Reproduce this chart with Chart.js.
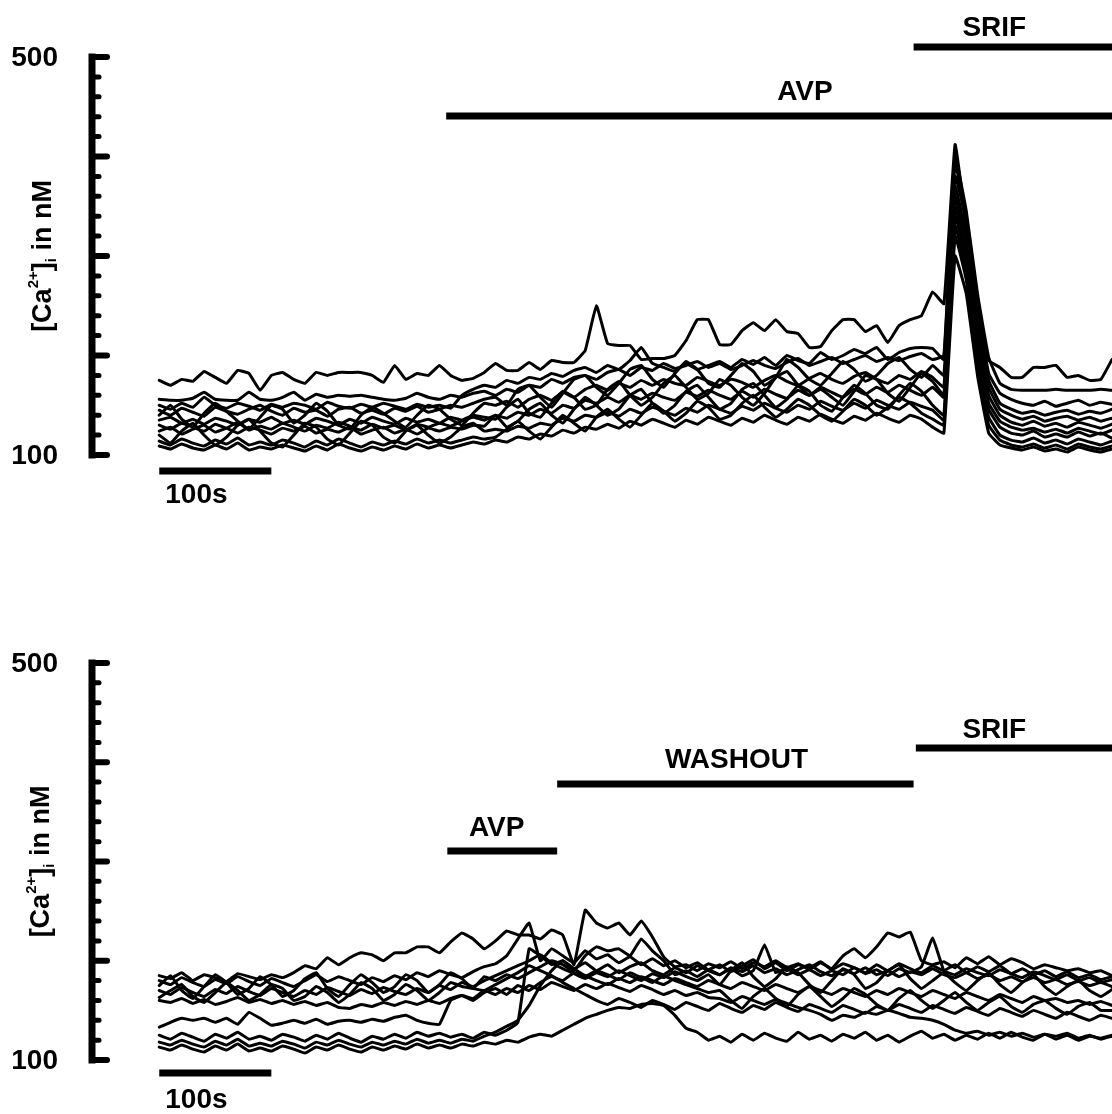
<!DOCTYPE html>
<html>
<head>
<meta charset="utf-8">
<title>[Ca2+]i traces</title>
<script src="https://cdn.jsdelivr.net/npm/chart.js@4.4.1/dist/chart.umd.min.js"></script>
<style>
  html, body { margin: 0; padding: 0; background: #fff; }
  #wrap { position: relative; width: 1112px; height: 1114px; }
  canvas { position: absolute; left: 0; }
</style>
</head>
<body>
<div id="wrap">
  <canvas id="topChart" width="1112" height="557" style="top:0"></canvas>
  <canvas id="bottomChart" width="1112" height="557" style="top:557px"></canvas>
</div>
<script>
// time axis, seconds (one sample every 10 s)
const time = [0,10,20,30,40,50,60,70,80,90,100,110,120,130,140,150,160,170,180,190,
  200,210,220,230,240,250,260,270,280,290,300,310,320,330,340,350,360,370,380,390,
  400,410,420,430,440,450,460,470,480,490,500,510,520,530,540,550,560,570,580,590,
  600,610,620,630,640,650,660,670,680,690,700,710,720,730,740,750,760,770,780,790,
  800,810,820,830,840,850];

const majorTicks = [100, 200, 300, 400, 500];
const tickLabels = [100, 500];
const scaleBar = [0, 100];

// drug applications, seconds
const topDrugs = ['SRIF', 'AVP'];
const topDrugStart = [673, 256];
const topDrugEnd = [850, 850];
const bottomDrugs = ['AVP', 'WASHOUT', 'SRIF'];
const bottomDrugStart = [257, 355, 675];
const bottomDrugEnd = [355, 673, 850];

// [Ca2+]i in nM, continuous AVP then SRIF
const topCell1 = [175,170,176,174,184,178,172,185,182,165,
  180,183,176,172,183,180,183,183,183,180,
  173,190,176,182,180,190,180,175,177,183,
  192,185,185,193,186,195,193,193,205,250,
  212,210,210,196,197,197,200,215,236,236,
  211,211,225,233,225,236,224,222,208,209,
  225,236,236,224,230,213,230,236,240,264,
  252,412,330,245,195,188,178,178,188,188,
  190,178,180,175,176,196];
const topCell2 = [156,155,155,157,163,156,155,155,163,156,
  155,158,163,155,161,158,160,159,160,158,
  156,155,157,162,158,156,160,158,162,164,
  160,166,163,170,168,176,172,178,180,176,
  183,186,180,188,185,192,187,190,194,188,
  192,186,190,195,190,187,193,197,190,194,
  198,192,196,200,194,198,195,199,202,196,
  200,400,345,262,198,172,166,165,165,165,
  166,165,165,165,166,165];
const topCell3 = [150,146,152,148,158,150,147,152,149,145,
  151,148,152,150,146,153,149,147,151,148,
  152,149,146,151,148,150,147,160,166,170,
  168,175,172,178,176,182,179,185,188,183,
  190,186,195,208,192,188,184,192,186,190,
  194,188,196,191,198,190,200,195,192,203,
  196,200,206,202,208,196,203,207,208,207,
  196,395,330,250,182,162,156,152,150,154,
  149,152,155,150,153,151];
const topCell4 = [145,140,147,143,139,148,144,141,146,150,
  144,140,147,143,145,139,146,148,142,145,
  141,147,144,149,143,146,150,148,152,156,
  158,150,166,170,158,148,162,176,180,168,
  160,172,186,190,176,168,182,194,186,172,
  168,180,192,184,170,178,196,188,176,170,
  182,194,186,174,180,192,198,186,178,190,
  180,380,335,240,175,152,146,142,144,140,
  143,145,141,144,142,146];
const topCell5 = [140,150,136,128,142,152,144,134,126,138,
  150,146,132,140,152,144,130,126,140,148,
  142,134,128,140,150,146,136,130,142,152,
  150,154,148,156,160,155,163,158,166,170,
  165,172,168,175,170,176,172,170,178,174,
  170,176,173,168,175,180,174,170,177,182,
  176,172,179,183,176,172,180,176,184,178,
  168,370,320,232,168,146,140,136,139,134,
  137,139,135,138,134,137];
const topCell6 = [135,138,132,136,131,137,134,130,136,133,
  138,132,135,131,137,134,130,136,132,138,
  134,131,137,133,136,132,138,135,140,138,
  136,148,156,142,138,152,164,158,146,150,
  166,174,160,150,158,172,180,168,156,162,
  176,170,158,150,162,178,184,170,160,166,
  158,150,164,180,176,162,154,168,182,174,
  160,360,312,226,160,140,133,130,134,129,
  132,128,133,130,127,131];
const topCell7 = [130,126,132,128,124,131,127,133,125,129,
  126,132,128,124,130,127,133,129,125,131,
  127,130,125,131,128,132,129,134,138,135,
  140,137,143,140,146,142,150,147,155,152,
  158,153,160,156,162,158,155,163,159,165,
  160,156,164,158,166,161,157,165,160,168,
  163,158,166,161,168,163,170,165,160,168,
  158,350,300,215,152,134,128,125,127,123,
  126,122,127,124,121,125];
const topCell8 = [124,128,121,126,130,123,127,122,128,125,
  121,127,124,129,122,126,123,128,121,125,
  128,122,126,121,127,124,128,126,130,129,
  140,128,134,146,152,140,132,146,158,150,
  140,146,160,166,152,142,150,164,170,158,
  146,152,166,172,160,148,156,170,164,150,
  144,158,170,162,150,146,160,172,164,150,
  140,340,295,208,146,128,122,120,124,118,
  121,118,123,119,122,117];
const topCell9 = [120,112,124,132,120,110,118,130,136,124,
  112,108,120,132,128,116,110,122,134,130,
  118,112,124,130,120,112,118,128,132,124,
  126,124,129,127,132,130,137,134,140,138,
  143,139,146,142,148,144,140,147,143,150,
  146,142,149,145,152,147,143,150,146,154,
  149,145,152,147,155,150,146,153,149,145,
  135,330,285,200,138,120,115,113,117,112,
  115,111,116,113,110,114];
const topCell10 = [114,110,116,112,109,115,111,117,110,113,
  110,115,112,108,114,110,116,112,108,113,
  110,114,111,116,112,115,112,115,118,116,
  118,126,134,124,116,128,140,132,124,138,
  146,136,128,140,152,144,134,142,154,148,
  136,140,152,160,148,138,146,156,150,140,
  134,144,156,150,140,148,158,152,142,136,
  130,320,276,192,130,115,110,108,111,107,
  110,106,111,108,106,109];
const topCell11 = [109,106,111,107,105,110,106,112,105,108,
  106,110,107,104,109,105,111,107,104,108,
  105,109,106,111,107,110,107,110,113,111,
  115,113,118,116,121,119,125,122,128,126,
  131,127,134,130,136,132,128,135,131,138,
  134,130,137,133,140,135,131,138,134,141,
  136,132,139,135,142,137,133,140,136,128,
  122,300,262,180,122,110,107,105,108,104,
  106,103,108,105,103,106];

// [Ca2+]i in nM, AVP pulse, washout, then SRIF
const botCell1 = [185,182,188,180,186,183,179,187,184,181,
  186,183,188,195,192,203,196,203,208,206,
  200,208,208,214,214,208,219,228,222,212,
  220,230,226,226,222,231,226,196,251,238,
  233,238,226,240,224,204,194,196,190,197,
  193,199,192,198,194,200,193,197,191,198,
  192,205,212,203,214,228,224,229,200,196,
  199,193,203,197,204,196,202,198,192,196,
  193,190,192,188,190,185];
const botCell2 = [180,176,183,178,174,181,177,184,179,175,
  182,178,174,180,186,179,184,180,176,183,
  179,185,181,188,184,190,186,183,189,194,
  197,205,222,238,200,212,205,198,210,202,
  206,198,204,196,202,195,200,193,198,191,
  196,189,195,201,192,198,190,196,193,199,
  191,197,193,188,196,190,197,192,188,195,
  190,196,188,194,189,195,187,192,186,190,
  184,189,183,186,181,184];
const botCell3 = [175,185,170,162,174,186,178,166,172,184,
  176,164,170,182,188,172,164,176,186,178,
  168,174,186,180,168,176,188,182,172,184,
  180,186,182,188,194,200,196,190,205,214,
  210,212,205,222,210,200,186,190,184,191,
  186,192,185,190,216,188,192,186,191,185,
  190,186,193,187,191,185,192,188,194,223,
  190,186,192,188,185,191,187,183,189,185,
  181,186,180,183,178,181];
const botCell4 = [170,166,173,168,164,171,167,174,169,165,
  172,168,164,170,166,173,169,165,171,167,
  173,169,166,172,168,175,171,178,174,180,
  185,190,195,200,206,198,192,187,182,188,
  184,190,185,180,187,183,189,184,180,186,
  176,190,198,184,174,182,194,188,176,168,
  180,192,186,172,178,190,196,182,172,180,
  188,178,170,180,188,176,168,178,186,174,
  166,174,180,170,164,171];
const botCell5 = [163,170,176,164,158,168,178,170,160,166,
  176,172,160,164,174,168,158,166,178,172,
  160,166,176,170,160,168,178,174,172,170,
  176,182,188,195,190,185,178,172,166,160,
  156,162,158,153,160,156,151,158,154,150,
  157,152,148,155,151,158,153,149,156,152,
  148,155,151,147,154,150,156,152,148,155,
  151,147,153,149,145,152,148,144,150,146,
  142,148,144,140,145,142];
const botCell6 = [160,158,162,157,161,156,159,163,158,161,
  157,160,156,159,155,158,153,152,156,154,
  158,155,159,156,160,157,162,165,160,168,
  172,166,175,170,178,184,180,188,184,190,
  186,181,188,183,178,185,180,176,172,168,
  170,160,152,164,172,162,154,166,174,164,
  154,162,172,166,156,150,162,170,160,152,
  160,168,158,150,158,164,154,148,156,160,
  152,146,154,158,150,150];
const botCell7 = [133,138,142,140,142,138,142,136,148,142,
  135,137,140,137,141,136,139,140,138,141,
  139,143,145,140,137,136,160,165,162,170,
  166,172,168,175,171,178,174,170,176,172,
  177,173,169,175,171,166,170,165,168,163,
  162,158,164,160,156,161,157,153,150,146,
  140,145,143,148,146,150,147,143,142,140,
  136,130,127,129,125,128,124,127,123,126,
  124,127,122,125,121,124];
const botCell8 = [125,121,127,123,119,126,122,128,121,124,
  120,126,123,119,125,121,127,122,118,124,
  121,126,122,128,124,127,123,126,122,128,
  125,130,138,212,205,196,200,192,198,190,
  196,188,194,198,190,186,193,188,195,190,
  186,193,189,195,188,192,186,191,196,189,
  185,191,187,193,186,190,184,189,186,192,
  186,183,188,182,186,180,184,179,183,178,
  181,176,179,175,178,174];
const botCell9 = [118,115,120,116,113,119,115,121,114,117,
  114,119,116,112,118,115,120,116,113,118,
  115,119,116,121,117,120,117,121,119,124,
  128,134,140,155,175,190,200,192,185,180,
  176,182,178,184,180,176,182,178,174,180,
  176,172,178,174,170,176,172,168,174,170,
  166,172,168,164,170,166,172,168,164,170,
  166,162,168,164,160,166,162,158,164,160,
  162,158,160,156,159,155];
const botCell10 = [113,110,115,111,108,114,110,116,109,112,
  109,114,111,107,113,110,115,111,108,113,
  110,114,111,116,112,115,112,116,114,118,
  116,120,118,123,126,124,130,136,142,146,
  150,153,152,156,157,155,145,132,128,120,
  124,118,126,120,127,122,119,128,121,125,
  119,126,122,128,120,125,118,124,129,122,
  126,120,125,121,127,122,128,123,120,126,
  121,125,120,124,122,125];

const topSeries = [topCell1, topCell2, topCell3, topCell4, topCell5, topCell6,
  topCell7, topCell8, topCell9, topCell10, topCell11];
const bottomSeries = [botCell1, botCell2, botCell3, botCell4, botCell5,
  botCell6, botCell7, botCell8, botCell9, botCell10];

const xMin = -60, xMax = 850, yMin = 100, yMax = 500;
const fontFamily = '"Liberation Sans", Arial, Helvetica, sans-serif';
const labelFont = 'bold 28px ' + fontFamily;

// axis, scale bar, title and drug bars, all placed through the chart scales
const panelDecor = {
  id: 'panelDecor',
  afterDatasetsDraw(chart, args, opts) {
    const { ctx, scales: { x, y } } = chart;
    const axX = x.left;
    const yTop = y.getPixelForValue(yMax);
    const yBot = y.getPixelForValue(yMin);
    ctx.save();
    ctx.strokeStyle = '#000';
    ctx.fillStyle = '#000';

    // spine with inward ticks
    ctx.lineWidth = 7;
    ctx.lineCap = 'square';
    ctx.beginPath();
    ctx.moveTo(axX, yTop);
    ctx.lineTo(axX, yBot);
    ctx.stroke();
    ctx.lineCap = 'round';
    for (let v = yMin; v <= yMax; v += 20) {
      const py = y.getPixelForValue(v);
      const major = majorTicks.includes(v);
      ctx.lineWidth = major ? 6 : 5;
      ctx.beginPath();
      ctx.moveTo(axX, py);
      ctx.lineTo(axX + (major ? 15 : 7), py);
      ctx.stroke();
    }

    ctx.font = labelFont;
    ctx.textAlign = 'right';
    ctx.textBaseline = 'middle';
    tickLabels.forEach(v => ctx.fillText(String(v), axX - 34, y.getPixelForValue(v) + 1));

    // rotated title: [Ca2+]i in nM
    ctx.save();
    ctx.translate(opts.titleX, (yTop + yBot) / 2);
    ctx.rotate(-Math.PI / 2);
    const big = 'bold 27px ' + fontFamily;
    const small = 'bold 15px ' + fontFamily;
    const parts = [
      { t: '[Ca', f: big, dy: 0 },
      { t: '2+', f: small, dy: -10 },
      { t: ']', f: big, dy: 0 },
      { t: 'i', f: small, dy: 8 },
      { t: ' in nM', f: big, dy: 0 }
    ];
    let total = 0;
    parts.forEach(p => { ctx.font = p.f; p.w = ctx.measureText(p.t).width; total += p.w; });
    let cx = -total / 2;
    ctx.textAlign = 'left';
    ctx.textBaseline = 'middle';
    parts.forEach(p => { ctx.font = p.f; ctx.fillText(p.t, cx, p.dy); cx += p.w; });
    ctx.restore();

    // 100 s scale bar
    const barY = yBot + opts.scaleOffset;
    ctx.lineCap = 'butt';
    ctx.lineWidth = 7;
    ctx.beginPath();
    ctx.moveTo(x.getPixelForValue(scaleBar[0]), barY);
    ctx.lineTo(x.getPixelForValue(scaleBar[1]), barY);
    ctx.stroke();
    ctx.font = labelFont;
    ctx.textAlign = 'left';
    ctx.textBaseline = 'middle';
    ctx.fillText('100s', x.getPixelForValue(scaleBar[0]) + 6, yBot + 40);

    // drug application bars
    ctx.textAlign = 'center';
    opts.drugs.forEach((name, i) => {
      const x0 = x.getPixelForValue(opts.start[i]);
      const x1 = x.getPixelForValue(opts.end[i]);
      ctx.lineWidth = 7;
      ctx.beginPath();
      ctx.moveTo(x0, opts.barY[i]);
      ctx.lineTo(x1, opts.barY[i]);
      ctx.stroke();
      ctx.fillText(name, x.getPixelForValue(opts.labelAt[i]), opts.textY[i]);
    });
    ctx.restore();
  }
};

function makeChart(canvasId, series, padding, decor) {
  return new Chart(document.getElementById(canvasId), {
    type: 'line',
    data: {
      datasets: series.map((vals, k) => ({
        label: 'cell ' + (k + 1),
        data: vals.map((v, i) => ({ x: time[i], y: v })),
        borderColor: '#000',
        borderWidth: 3,
        borderJoinStyle: 'round',
        borderCapStyle: 'round',
        pointRadius: 0,
        tension: 0.1,
        fill: false
      }))
    },
    options: {
      responsive: false,
      animation: false,
      devicePixelRatio: 1,
      layout: { padding },
      plugins: {
        legend: { display: false },
        tooltip: { enabled: false },
        panelDecor: decor
      },
      scales: {
        x: { type: 'linear', min: xMin, max: xMax, display: false },
        y: { type: 'linear', min: yMin, max: yMax, display: false }
      }
    },
    plugins: [panelDecor]
  });
}

makeChart('topChart', topSeries, { left: 92, right: 0, top: 57, bottom: 102 }, {
  drugs: topDrugs, start: topDrugStart, end: topDrugEnd,
  labelAt: [745, 576], barY: [47, 116], textY: [28, 92],
  titleX: 44, scaleOffset: 16
});

makeChart('bottomChart', bottomSeries, { left: 92, right: 0, top: 106, bottom: 54 }, {
  drugs: bottomDrugs, start: bottomDrugStart, end: bottomDrugEnd,
  labelAt: [301, 515, 745], barY: [294, 227, 191], textY: [271, 203, 173],
  titleX: 42, scaleOffset: 13
});
</script>
</body>
</html>
